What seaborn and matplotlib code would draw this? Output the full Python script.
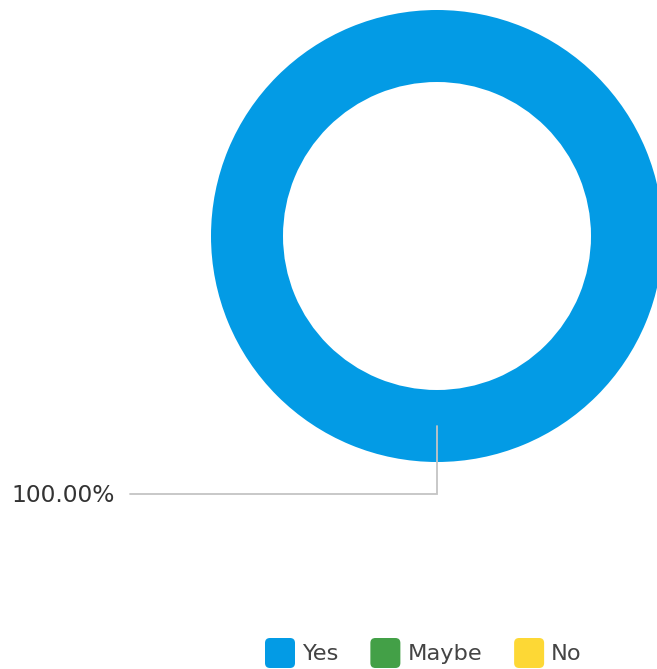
import numpy as np
import matplotlib
matplotlib.use("Agg")
import matplotlib.pyplot as plt
from matplotlib.patches import FancyBboxPatch
import seaborn as sns

# data
categories = ["Yes", "Maybe", "No"]
shares = [100.0, 0.0, 0.0]
colors = ["#039be5", "#43a047", "#fdd835"]

sns.set_theme(style="white")
plt.rcParams['font.family'] = ['DejaVu Sans']

W, H = 657, 669
fig = plt.figure(figsize=(W / 100, H / 100), dpi=100)
ax = fig.add_axes([0, 0, 1, 1])

cx, cy, r_out, r_in = 437, 236, 226, 154

# draw only non-zero slices
vals = [v for v in shares if v > 0]
cols = [c for v, c in zip(shares, colors) if v > 0]
wedges, _ = ax.pie(vals, colors=cols, center=(cx, cy), radius=r_out,
                   startangle=-90, counterclock=True,
                   wedgeprops=dict(width=r_out - r_in, linewidth=0),
                   frame=True)
ax.set_xlim(0, W)
ax.set_ylim(H, 0)
ax.set_aspect("equal")
ax.axis("off")

# leader line + label for each visible slice
for w, v in zip(wedges, vals):
    mid = np.deg2rad((w.theta1 + w.theta2) / 2)
    # y axis is inverted, so the pie's "up" shows at the bottom
    r_mid = (r_out + r_in) / 2
    x0 = cx + r_mid * np.cos(mid)
    y0 = cy + r_mid * np.sin(mid)
    y1 = 494
    ax.plot([x0, x0, 130], [y0, y1, y1], color="#c4c4c4", lw=1.3,
            solid_joinstyle="miter")
    ax.text(11, y1 + 1, f"{v:.2f}%", ha="left", va="center",
            fontsize=16.8, color="#333333")

# legend
fig.canvas.draw()
renderer = fig.canvas.get_renderer()
x = 265
for name, c in zip(categories, colors):
    box = FancyBboxPatch((x + 4, 642), 22, 22,
                         boxstyle="round,pad=4,rounding_size=5",
                         facecolor=c, edgecolor="none")
    ax.add_patch(box)
    t = ax.text(x + 37, 654, name, ha="left", va="center",
                fontsize=16.2, color="#444444")
    bb = t.get_window_extent(renderer)
    x = bb.x1 + 32

fig.savefig("out.png", dpi=100)
